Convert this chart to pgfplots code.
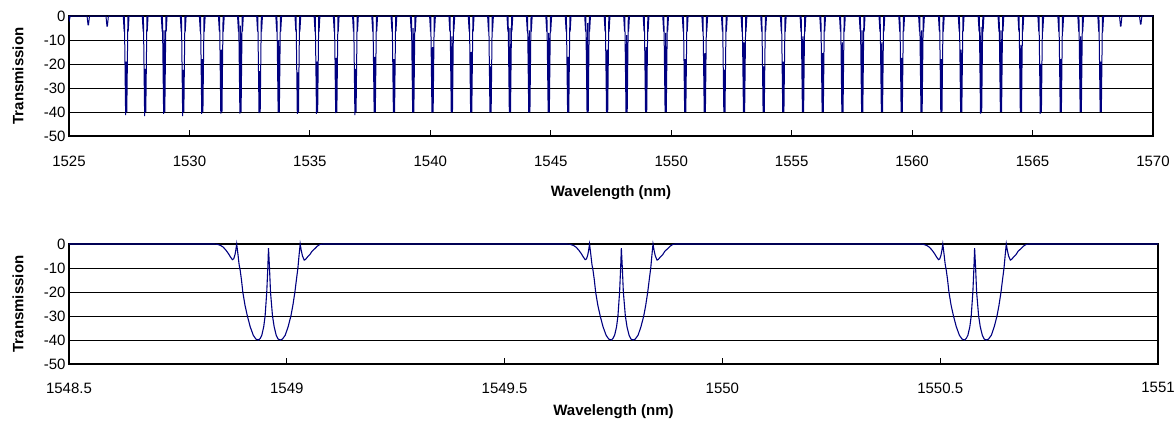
\documentclass[border=0pt]{standalone}
\usepackage{fontspec}
\setmainfont{Liberation Sans}
\usepackage{pgfplots}
\pgfplotsset{compat=1.18}
\definecolor{navy}{RGB}{0,0,128}
\pgfplotsset{
 trans/.style={
  scale only axis, anchor=south west,
  ymin=-50, ymax=0,
  ytick={-50,-40,-30,-20,-10,0},
  yticklabels={-50,-40,-30,-20,-10,0},
  ymajorgrids, grid style={black, line width=0.8bp},
  ytick style={draw=none},
  axis line style={black, line width=1.6bp},
  tick align=inside, major tick length=6bp,
  xtick style={black, line width=1bp},
  xtick pos=left, ytick pos=left,
  tick label style={font=\fontsize{15bp}{18bp}\selectfont},
  label style={font=\bfseries\fontsize{15bp}{18bp}\selectfont},
  ylabel={Transmission},
  xlabel={Wavelength (nm)},
  clip=false,
 }
}
\begin{document}
\begin{tikzpicture}
\begin{axis}[trans,
  at={(69bp,-136bp)}, width=1084bp, height=120bp,
  xmin=1525, xmax=1570,
  xtick={1525,1530,1535,1540,1545,1550,1555,1560,1565,1570},
  xticklabels={1525,1530,1535,1540,1545,1550,1555,1560,1565,1570},
  xticklabel style={yshift=-17bp},
  xlabel style={at={(axis description cs:0.5,0)}, anchor=center, yshift=-57bp},
  ylabel style={at={(axis description cs:-0.047,0.5)}, anchor=center},
]
\addplot[navy, line width=1bp, mark=none] coordinates {
(1525,0) (1525.02,-1.5) (1525.05,0)
(1525.75,0) (1525.79,-3.7) (1525.81,-3.7) (1525.85,0)
(1526.535,0) (1526.575,-4.2) (1526.595,-4.2) (1526.635,0)
(1527.253,0) (1527.290,-6.5) (1527.300,0) (1527.350,-41.3) (1527.373,-19) (1527.400,-40) (1527.445,0) (1527.457,-6.5) (1527.493,0)
(1528.042,0) (1528.079,-6.5) (1528.089,0) (1528.139,-41.7) (1528.162,-22) (1528.189,-40) (1528.234,0) (1528.246,-6.5) (1528.282,0)
(1528.831,0) (1528.868,-6.5) (1528.878,0) (1528.928,-40.8) (1528.951,-6) (1528.978,-40) (1529.023,0) (1529.035,-6.5) (1529.071,0)
(1529.621,0) (1529.658,-6.5) (1529.668,0) (1529.718,-41.7) (1529.741,-22.5) (1529.768,-40) (1529.813,0) (1529.825,-6.5) (1529.861,0)
(1530.413,0) (1530.450,-6.5) (1530.460,0) (1530.510,-40.8) (1530.533,-18) (1530.560,-40) (1530.605,0) (1530.617,-6.5) (1530.653,0)
(1531.204,0) (1531.241,-6.5) (1531.251,0) (1531.301,-40.7) (1531.324,-14) (1531.351,-40) (1531.396,0) (1531.408,-6.5) (1531.444,0)
(1531.997,0) (1532.034,-6.5) (1532.044,0) (1532.094,-40.7) (1532.117,-4) (1532.144,-40) (1532.189,0) (1532.201,-6.5) (1532.237,0)
(1532.791,0) (1532.828,-6.5) (1532.838,0) (1532.888,-40.5) (1532.911,-23) (1532.938,-40) (1532.983,0) (1532.995,-6.5) (1533.031,0)
(1533.585,0) (1533.622,-6.5) (1533.632,0) (1533.682,-40.3) (1533.705,-10) (1533.732,-40) (1533.777,0) (1533.789,-6.5) (1533.825,0)
(1534.380,0) (1534.417,-6.5) (1534.427,0) (1534.477,-40.8) (1534.500,-23.5) (1534.527,-40) (1534.572,0) (1534.584,-6.5) (1534.620,0)
(1535.176,0) (1535.213,-6.5) (1535.223,0) (1535.273,-40.8) (1535.296,-19) (1535.323,-40) (1535.368,0) (1535.380,-6.5) (1535.416,0)
(1535.973,0) (1536.010,-6.5) (1536.020,0) (1536.070,-40.5) (1536.093,-17.5) (1536.120,-40) (1536.165,0) (1536.177,-6.5) (1536.213,0)
(1536.771,0) (1536.808,-6.5) (1536.818,0) (1536.868,-41.3) (1536.891,-22) (1536.918,-40) (1536.963,0) (1536.975,-6.5) (1537.011,0)
(1537.570,0) (1537.607,-6.5) (1537.617,0) (1537.667,-40.3) (1537.690,-17) (1537.717,-40) (1537.762,0) (1537.774,-6.5) (1537.810,0)
(1538.369,0) (1538.406,-6.5) (1538.416,0) (1538.466,-40.3) (1538.489,-18) (1538.516,-40) (1538.561,0) (1538.573,-6.5) (1538.609,0)
(1539.169,0) (1539.206,-6.5) (1539.216,0) (1539.266,-40.3) (1539.289,-5) (1539.316,-40) (1539.361,0) (1539.373,-6.5) (1539.409,0)
(1539.970,0) (1540.007,-6.5) (1540.017,0) (1540.067,-40.3) (1540.090,-13) (1540.117,-40) (1540.162,0) (1540.174,-6.5) (1540.210,0)
(1540.772,0) (1540.809,-6.5) (1540.819,0) (1540.869,-40.3) (1540.892,-8.5) (1540.919,-40) (1540.964,0) (1540.976,-6.5) (1541.012,0)
(1541.575,0) (1541.612,-6.5) (1541.622,0) (1541.672,-40.3) (1541.695,-15) (1541.722,-40) (1541.767,0) (1541.779,-6.5) (1541.815,0)
(1542.378,0) (1542.415,-6.5) (1542.425,0) (1542.475,-40.3) (1542.498,-21) (1542.525,-40) (1542.570,0) (1542.582,-6.5) (1542.618,0)
(1543.182,0) (1543.219,-6.5) (1543.229,0) (1543.279,-40.3) (1543.302,-5) (1543.329,-40) (1543.374,0) (1543.386,-6.5) (1543.422,0)
(1543.988,0) (1544.025,-6.5) (1544.035,0) (1544.085,-40.3) (1544.108,-6) (1544.135,-40) (1544.180,0) (1544.192,-6.5) (1544.228,0)
(1544.794,0) (1544.831,-6.5) (1544.841,0) (1544.891,-40.3) (1544.914,-7) (1544.941,-40) (1544.986,0) (1544.998,-6.5) (1545.034,0)
(1545.601,0) (1545.638,-6.5) (1545.648,0) (1545.698,-40.3) (1545.721,-17) (1545.748,-40) (1545.793,0) (1545.805,-6.5) (1545.841,0)
(1546.408,0) (1546.445,-6.5) (1546.455,0) (1546.505,-40.3) (1546.528,-3) (1546.555,-40) (1546.600,0) (1546.612,-6.5) (1546.648,0)
(1547.217,0) (1547.254,-6.5) (1547.264,0) (1547.314,-40.3) (1547.337,-14) (1547.364,-40) (1547.409,0) (1547.421,-6.5) (1547.457,0)
(1548.026,0) (1548.063,-6.5) (1548.073,0) (1548.123,-40.3) (1548.146,-8) (1548.173,-40) (1548.218,0) (1548.230,-6.5) (1548.266,0)
(1548.836,0) (1548.873,-6.5) (1548.883,0) (1548.933,-40) (1548.956,-13) (1548.983,-40) (1549.028,0) (1549.040,-6.5) (1549.076,0)
(1549.648,0) (1549.685,-6.5) (1549.695,0) (1549.745,-40) (1549.768,-7) (1549.795,-40) (1549.840,0) (1549.852,-6.5) (1549.888,0)
(1550.460,0) (1550.497,-6.5) (1550.507,0) (1550.557,-40) (1550.580,-18) (1550.607,-40) (1550.652,0) (1550.664,-6.5) (1550.700,0)
(1551.272,0) (1551.309,-6.5) (1551.319,0) (1551.369,-40) (1551.392,-15.5) (1551.419,-40) (1551.464,0) (1551.476,-6.5) (1551.512,0)
(1552.086,0) (1552.123,-6.5) (1552.133,0) (1552.183,-40) (1552.206,-22.5) (1552.233,-40) (1552.278,0) (1552.290,-6.5) (1552.326,0)
(1552.901,0) (1552.938,-6.5) (1552.948,0) (1552.998,-40) (1553.021,-11) (1553.048,-40) (1553.093,0) (1553.105,-6.5) (1553.141,0)
(1553.716,0) (1553.753,-6.5) (1553.763,0) (1553.813,-40) (1553.836,-21) (1553.863,-40) (1553.908,0) (1553.920,-6.5) (1553.956,0)
(1554.532,0) (1554.569,-6.5) (1554.579,0) (1554.629,-40) (1554.652,-19) (1554.679,-40) (1554.724,0) (1554.736,-6.5) (1554.772,0)
(1555.349,0) (1555.386,-6.5) (1555.396,0) (1555.446,-40) (1555.469,-8.5) (1555.496,-40) (1555.541,0) (1555.553,-6.5) (1555.589,0)
(1556.167,0) (1556.204,-6.5) (1556.214,0) (1556.264,-40) (1556.287,-15.5) (1556.314,-40) (1556.359,0) (1556.371,-6.5) (1556.407,0)
(1556.986,0) (1557.023,-6.5) (1557.033,0) (1557.083,-40) (1557.106,-11) (1557.133,-40) (1557.178,0) (1557.190,-6.5) (1557.226,0)
(1557.806,0) (1557.843,-6.5) (1557.853,0) (1557.903,-40) (1557.926,-6) (1557.953,-40) (1557.998,0) (1558.010,-6.5) (1558.046,0)
(1558.626,0) (1558.663,-6.5) (1558.673,0) (1558.723,-40) (1558.746,-11) (1558.773,-40) (1558.818,0) (1558.830,-6.5) (1558.866,0)
(1559.447,0) (1559.484,-6.5) (1559.494,0) (1559.544,-40) (1559.567,-17.5) (1559.594,-40) (1559.639,0) (1559.651,-6.5) (1559.687,0)
(1560.270,0) (1560.307,-6.5) (1560.317,0) (1560.367,-40) (1560.390,-6) (1560.417,-40) (1560.462,0) (1560.474,-6.5) (1560.510,0)
(1561.093,0) (1561.130,-6.5) (1561.140,0) (1561.190,-40) (1561.213,-18) (1561.240,-40) (1561.285,0) (1561.297,-6.5) (1561.333,0)
(1561.917,0) (1561.954,-6.5) (1561.964,0) (1562.014,-40) (1562.037,-14) (1562.064,-40) (1562.109,0) (1562.121,-6.5) (1562.157,0)
(1562.742,0) (1562.779,-6.5) (1562.789,0) (1562.839,-40.7) (1562.862,-4.5) (1562.889,-40) (1562.934,0) (1562.946,-6.5) (1562.982,0)
(1563.567,0) (1563.604,-6.5) (1563.614,0) (1563.664,-40) (1563.687,-6) (1563.714,-40) (1563.759,0) (1563.771,-6.5) (1563.807,0)
(1564.394,0) (1564.431,-6.5) (1564.441,0) (1564.491,-40) (1564.514,-12) (1564.541,-40) (1564.586,0) (1564.598,-6.5) (1564.634,0)
(1565.221,0) (1565.258,-6.5) (1565.268,0) (1565.318,-40.8) (1565.341,-20) (1565.368,-40) (1565.413,0) (1565.425,-6.5) (1565.461,0)
(1566.050,0) (1566.087,-6.5) (1566.097,0) (1566.147,-40) (1566.170,-18) (1566.197,-40) (1566.242,0) (1566.254,-6.5) (1566.290,0)
(1566.879,0) (1566.916,-6.5) (1566.926,0) (1566.976,-40) (1566.999,-8.5) (1567.026,-40) (1567.071,0) (1567.083,-6.5) (1567.119,0)
(1567.709,0) (1567.746,-6.5) (1567.756,0) (1567.806,-40) (1567.829,-19) (1567.856,-40) (1567.901,0) (1567.913,-6.5) (1567.949,0)
(1568.61,0) (1568.65,-4.2) (1568.67,-4.2) (1568.71,0)
(1569.44,0) (1569.48,-3.4) (1569.50,-3.4) (1569.54,0)
(1570,0)
};
\end{axis}
\begin{axis}[trans,
  at={(69bp,-364bp)}, width=1089bp, height=120bp,
  xmin=1548.5, xmax=1551,
  xtick={1548.5,1549,1549.5,1550,1550.5,1551},
  xticklabels={1548.5,1549,1549.5,1550,1550.5,1551},
  xticklabel style={yshift=-15bp},
  xlabel style={at={(axis description cs:0.5,0)}, anchor=center, yshift=-48bp},
  ylabel style={at={(axis description cs:-0.0468,0.5)}, anchor=center},
]
\addplot[navy, line width=1.1bp, mark=none] coordinates {
(1548.5,0)
(1548.833,0) (1548.840,-0.1) (1548.848,-0.6) (1548.854,-1.3) (1548.860,-2.5) (1548.866,-4) (1548.871,-5.5) (1548.875,-6.5) (1548.878,-6.2) (1548.881,-4.5) (1548.883,-2.5) (1548.885,0) (1548.888,-4.5) (1548.8905,-8.5) (1548.893,-11) (1548.896,-15) (1548.899,-20) (1548.904,-25.5) (1548.9095,-30) (1548.916,-34.5) (1548.923,-38) (1548.929,-39.6) (1548.935,-40) (1548.939,-39.3) (1548.9426,-38) (1548.947,-34.5) (1548.9502,-30) (1548.954,-20) (1548.9564,-10) (1548.958,-1.7) (1548.9603,-10) (1548.9626,-20) (1548.9672,-30) (1548.971,-34.5) (1548.9757,-38) (1548.980,-39.6) (1548.985,-40) (1548.990,-39.6) (1548.9964,-38) (1549.003,-34.5) (1549.0094,-30) (1549.014,-25.5) (1549.0186,-20) (1549.022,-15) (1549.0255,-10) (1549.028,-5) (1549.0307,0) (1549.033,-2.5) (1549.036,-5) (1549.040,-6.7) (1549.043,-6.4) (1549.048,-5.3) (1549.053,-4.4) (1549.058,-3) (1549.064,-2) (1549.070,-0.9) (1549.076,-0.2) (1549.083,0)
(1549.643,0) (1549.650,-0.1) (1549.658,-0.6) (1549.664,-1.3) (1549.670,-2.5) (1549.676,-4) (1549.681,-5.5) (1549.685,-6.5) (1549.688,-6.2) (1549.691,-4.5) (1549.693,-2.5) (1549.695,0) (1549.698,-4.5) (1549.7005,-8.5) (1549.703,-11) (1549.706,-15) (1549.709,-20) (1549.714,-25.5) (1549.7195,-30) (1549.726,-34.5) (1549.733,-38) (1549.739,-39.6) (1549.745,-40) (1549.749,-39.3) (1549.7526,-38) (1549.757,-34.5) (1549.7602,-30) (1549.764,-20) (1549.7664,-10) (1549.768,-1.7) (1549.7703,-10) (1549.7726,-20) (1549.7772,-30) (1549.781,-34.5) (1549.7857,-38) (1549.790,-39.6) (1549.795,-40) (1549.800,-39.6) (1549.8064,-38) (1549.813,-34.5) (1549.8194,-30) (1549.824,-25.5) (1549.8286,-20) (1549.832,-15) (1549.8355,-10) (1549.838,-5) (1549.8407,0) (1549.843,-2.5) (1549.846,-5) (1549.850,-6.7) (1549.853,-6.4) (1549.858,-5.3) (1549.863,-4.4) (1549.868,-3) (1549.874,-2) (1549.880,-0.9) (1549.886,-0.2) (1549.893,0)
(1550.454,0) (1550.461,-0.1) (1550.469,-0.6) (1550.475,-1.3) (1550.481,-2.5) (1550.487,-4) (1550.492,-5.5) (1550.496,-6.5) (1550.499,-6.2) (1550.502,-4.5) (1550.504,-2.5) (1550.506,0) (1550.509,-4.5) (1550.5115,-8.5) (1550.514,-11) (1550.517,-15) (1550.520,-20) (1550.525,-25.5) (1550.5305,-30) (1550.537,-34.5) (1550.544,-38) (1550.550,-39.6) (1550.556,-40) (1550.560,-39.3) (1550.5636,-38) (1550.568,-34.5) (1550.5712,-30) (1550.575,-20) (1550.5774,-10) (1550.579,-1.7) (1550.5813,-10) (1550.5836,-20) (1550.5882,-30) (1550.592,-34.5) (1550.5967,-38) (1550.601,-39.6) (1550.606,-40) (1550.611,-39.6) (1550.6174,-38) (1550.624,-34.5) (1550.6304,-30) (1550.635,-25.5) (1550.6396,-20) (1550.643,-15) (1550.6465,-10) (1550.649,-5) (1550.6517,0) (1550.654,-2.5) (1550.657,-5) (1550.661,-6.7) (1550.664,-6.4) (1550.669,-5.3) (1550.674,-4.4) (1550.679,-3) (1550.685,-2) (1550.691,-0.9) (1550.697,-0.2) (1550.704,0)
(1551,0)
};
\end{axis}
\pgfresetboundingbox
\path[use as bounding box] (0,0) rectangle (1174bp,-421bp);
\end{tikzpicture}
\end{document}
